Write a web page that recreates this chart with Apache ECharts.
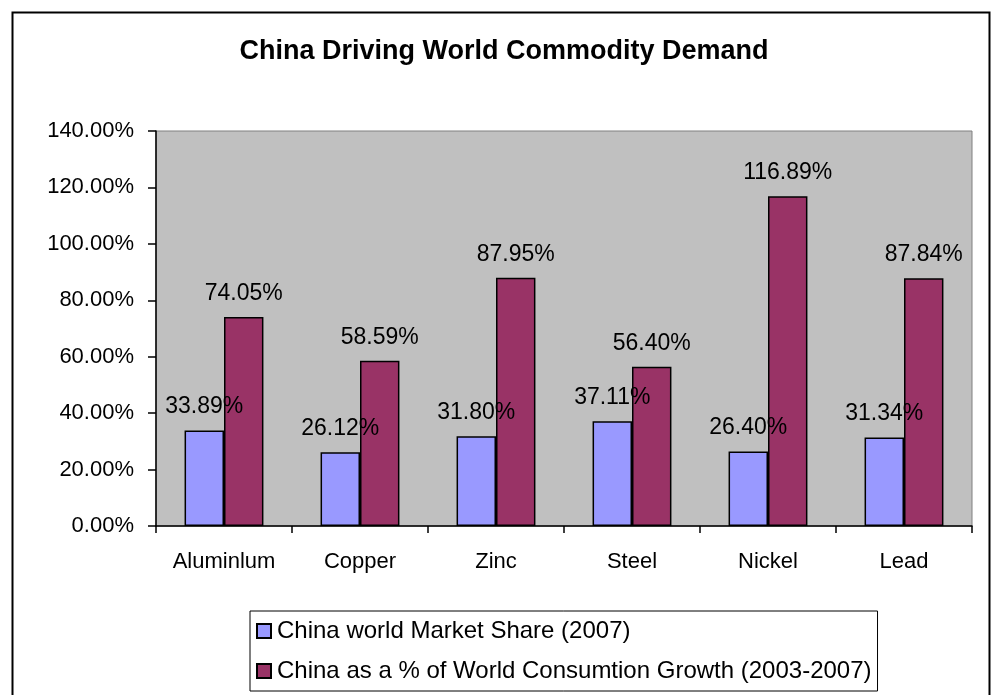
<!DOCTYPE html>
<html>
<head>
<meta charset="utf-8">
<title>China Driving World Commodity Demand</title>
<script src="https://cdn.jsdelivr.net/npm/echarts@6/dist/echarts.min.js"></script>
<style>
  html, body { margin: 0; padding: 0; background: #ffffff; }
  #chart { width: 993px; height: 695px; }
</style>
</head>
<body>
<div id="chart"></div>
<script>
// Commodities on the category axis
const categories = ['Aluminlum', 'Copper', 'Zinc', 'Steel', 'Nickel', 'Lead'];

// China's share of world market, 2007 (percent)
const marketShare2007 = [33.89, 26.12, 31.80, 37.11, 26.40, 31.34];

// China's share of world consumption growth, 2003-2007 (percent)
const consumptionGrowth = [74.05, 58.59, 87.95, 56.40, 116.89, 87.84];

// Value axis ticks (percent)
const yTicks = [0, 20, 40, 60, 80, 100, 120, 140];

const seriesNames = [
  'China world Market Share (2007)',
  'China as a % of World Consumtion Growth (2003-2007)'
];

const FONT = '"Liberation Sans", Arial, Helvetica, sans-serif';
const pct = v => Number(v).toFixed(2) + '%';

const chart = echarts.init(document.getElementById('chart'), null, { renderer: 'canvas' });

const barLabel = {
  show: true,
  position: 'top',
  distance: 12,
  color: '#000',
  fontFamily: FONT,
  fontSize: 23,
  formatter: p => pct(p.value)
};

chart.setOption({
  backgroundColor: '#ffffff',
  animation: false,
  textStyle: { fontFamily: FONT, color: '#000' },
  title: {
    text: 'China Driving World Commodity Demand',
    left: 504,
    top: 38,
    textAlign: 'center',
    padding: 0,
    textStyle: { fontFamily: FONT, fontSize: 27, fontWeight: 'bold', color: '#000' }
  },
  graphic: [{
    type: 'rect',
    left: 10,
    top: 10,
    shape: { width: 977, height: 700 },
    style: { fill: 'none', stroke: '#000', lineWidth: 2 },
    silent: true,
    z: 100
  }],
  legend: {
    orient: 'vertical',
    left: 250,
    top: 611,
    padding: [8, 6, 8, 6],
    itemGap: 16,
    itemWidth: 14,
    itemHeight: 14,
    icon: 'rect',
    borderColor: '#000',
    borderWidth: 1,
    backgroundColor: '#fff',
    textStyle: { fontFamily: FONT, fontSize: 24, color: '#000', padding: [0, 0, 0, 1] },
    data: seriesNames
  },
  grid: {
    show: true,
    left: 156,
    top: 131,
    right: 21,
    bottom: 169,
    backgroundColor: '#C0C0C0',
    borderColor: '#808080',
    borderWidth: 1
  },
  xAxis: {
    type: 'category',
    data: categories,
    axisLine: { lineStyle: { color: '#000', width: 1.5 } },
    axisTick: { show: true, length: 7, lineStyle: { color: '#000', width: 1.5 } },
    axisLabel: { fontFamily: FONT, fontSize: 22, color: '#000', margin: 25 }
  },
  yAxis: {
    type: 'value',
    min: yTicks[0],
    max: yTicks[yTicks.length - 1],
    interval: yTicks[1] - yTicks[0],
    axisLine: { show: true, lineStyle: { color: '#000', width: 1.5 } },
    axisTick: { show: true, length: 8, lineStyle: { color: '#000', width: 1.5 } },
    splitLine: { show: false },
    axisLabel: { fontFamily: FONT, fontSize: 22, color: '#000', margin: 22, formatter: v => pct(v) }
  },
  series: [
    {
      name: seriesNames[0],
      type: 'bar',
      data: marketShare2007,
      barWidth: '29%',
      barGap: '0%',
      itemStyle: { color: '#9999FF', borderColor: '#000', borderWidth: 1.5 },
      label: barLabel
    },
    {
      name: seriesNames[1],
      type: 'bar',
      data: consumptionGrowth,
      barWidth: '29%',
      itemStyle: { color: '#993366', borderColor: '#000', borderWidth: 1.5 },
      label: barLabel
    }
  ]
});
</script>
</body>
</html>
